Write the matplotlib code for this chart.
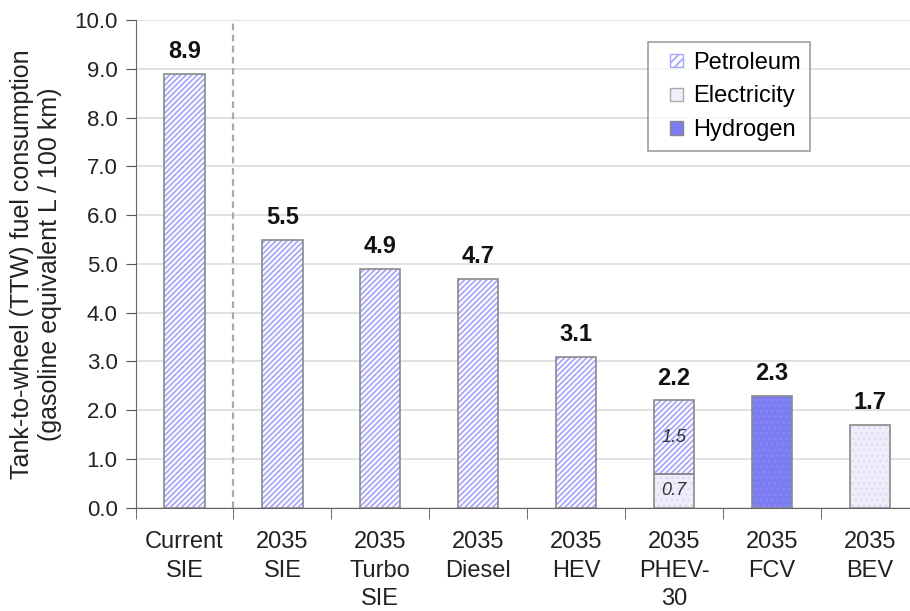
import matplotlib
matplotlib.use("Agg")
import matplotlib.pyplot as plt
import matplotlib as mpl
from matplotlib.patches import Patch, Rectangle
from matplotlib.legend_handler import HandlerPatch

mpl.rcParams['font.family'] = ['Liberation Sans', 'DejaVu Sans']
mpl.rcParams['hatch.linewidth'] = 1.3

categories = ["Current\nSIE", "2035\nSIE", "2035\nTurbo\nSIE", "2035\nDiesel",
              "2035\nHEV", "2035\nPHEV-\n30", "2035\nFCV", "2035\nBEV"]
petroleum = [8.9, 5.5, 4.9, 4.7, 3.1, 1.5, 0.0, 0.0]
electricity = [0.0, 0.0, 0.0, 0.0, 0.0, 0.7, 0.0, 1.7]
hydrogen = [0.0, 0.0, 0.0, 0.0, 0.0, 0.0, 2.3, 0.0]
totals = [8.9, 5.5, 4.9, 4.7, 3.1, 2.2, 2.3, 1.7]
phev_labels = ["1.5", "0.7"]

fig = plt.figure(figsize=(9.1, 6.11), dpi=100)
ax = fig.add_axes([0.149, 0.169, 0.851, 0.798])

x = list(range(len(categories)))
w = 0.41
edge = '#8a8a8a'
pet_c = '#a8a8fa'
ele_c = '#efeffc'
ele_dot = '#dedef5'
hyd_c = '#7c7cf2'
hyd_dot = '#8686f4'

def outline(i, h, b=0.0):
    ax.bar(i, h, w, bottom=b, color='none', edgecolor=edge, linewidth=1.2, zorder=4)

for i in x:
    if electricity[i] > 0:
        ax.bar(i, electricity[i], w, color=ele_c, edgecolor=ele_dot, linewidth=0,
               hatch='...', zorder=3)
        outline(i, electricity[i])
    if petroleum[i] > 0:
        ax.bar(i, petroleum[i], w, bottom=electricity[i], color='white',
               edgecolor=pet_c, linewidth=0, hatch='//////', zorder=3)
        outline(i, petroleum[i], electricity[i])
    if hydrogen[i] > 0:
        ax.bar(i, hydrogen[i], w, color=hyd_c, edgecolor=hyd_dot, linewidth=0,
               hatch='...', zorder=3)
        outline(i, hydrogen[i])

for i, t in enumerate(totals):
    ax.text(i, t + 0.22, f"{t:.1f}", ha='center', va='bottom', fontsize=17,
            fontweight='bold', color='#111111')

ax.text(5, electricity[5] + petroleum[5] / 2, phev_labels[0], ha='center', va='center',
        fontsize=13, style='italic', color='#333333', zorder=5)
ax.text(5, electricity[5] / 2, phev_labels[1], ha='center', va='center',
        fontsize=13, style='italic', color='#333333', zorder=5)

ax.axvline(0.5, color='#aaaaaa', linestyle=(0, (3, 2)), linewidth=1.6, zorder=2)

ax.set_ylim(0, 10)
ax.set_xlim(-0.5, 7.41)
ax.set_yticks([i for i in range(11)])
ax.set_yticklabels([f"{i:.1f}" for i in range(11)], fontsize=16, color='#222222')
ax.yaxis.grid(True, color='#dcdcdc', linewidth=1.2, zorder=0)
ax.set_axisbelow(True)

ax.set_xticks(x)
ax.set_xticklabels(categories, fontsize=17, linespacing=1.37, color='#222222')
ax.tick_params(axis='x', length=0, pad=17)
ax.set_xticks([i - 0.5 for i in range(len(categories))], minor=True)
ax.tick_params(axis='x', which='minor', length=8, color='#555555')
ax.tick_params(axis='y', length=7, color='#555555', pad=6)

for s in ['top', 'right']:
    ax.spines[s].set_visible(False)
for s in ['left', 'bottom']:
    ax.spines[s].set_color('#666666')

ax.set_ylabel("Tank-to-wheel (TTW) fuel consumption\n(gasoline equivalent L / 100 km)",
              fontsize=18, labelpad=9, linespacing=1.2, color='#222222')


def square_patch(legend, orig_handle, xdescent, ydescent, width, height, fontsize):
    s = 9.5
    return Rectangle((-xdescent + width - s, -ydescent + (height - s) / 2), s, s)


handles = [Patch(facecolor='white', edgecolor=pet_c, hatch='////', label='Petroleum'),
           Patch(facecolor=ele_c, edgecolor='#aaaaaa', label='Electricity'),
           Patch(facecolor=hyd_c, edgecolor='#888888', label='Hydrogen')]
hm = {h: HandlerPatch(patch_func=square_patch) for h in handles}
leg = ax.legend(handles=handles, handler_map=hm, loc='upper left',
                bbox_to_anchor=(0.6615, 0.955),
                fontsize=17, frameon=True, fancybox=False, edgecolor='#888888',
                handlelength=1.08, handleheight=0.75, handletextpad=0.42,
                labelspacing=0.5, borderpad=0.4, borderaxespad=0)
leg.get_frame().set_linewidth(1.2)

fig.savefig("out.png", dpi=100)
